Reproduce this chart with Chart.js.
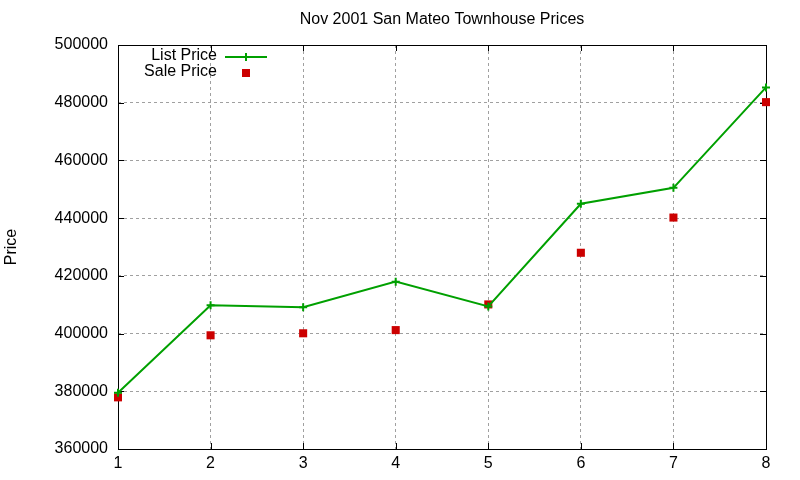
<!DOCTYPE html>
<html>
<head>
<meta charset="utf-8">
<script src="https://cdn.jsdelivr.net/npm/chart.js@4/dist/chart.umd.min.js"></script>
<style>
  html, body { margin: 0; padding: 0; background: #fff; }
  #wrap { width: 800px; height: 480px; }
</style>
</head>
<body>
<div id="wrap"><canvas id="chart"></canvas></div>
<script>
const listingIndex = [1, 2, 3, 4, 5, 6, 7, 8];
const listPrice = [379500, 409800, 409100, 418000, 409400, 445000, 450500, 485300];
const salePrice = [377900, 399400, 400100, 401200, 410100, 428000, 440200, 480200];
const yTicks = [360000, 380000, 400000, 420000, 440000, 460000, 480000, 500000];
const chartTitle = "Nov 2001 San Mateo Townhouse Prices";

const FONT = "'Liberation Sans', Arial, sans-serif";

// gnuplot style frame: black box with inward ticks, title and key
const framePlugin = {
  id: "frame",
  beforeDatasetsDraw(chart) {
    const { ctx, chartArea: a, scales } = chart;
    ctx.save();
    ctx.strokeStyle = "#000";
    ctx.lineWidth = 1;
    ctx.beginPath();
    scales.x.ticks.forEach((t) => {
      const x = Math.round(scales.x.getPixelForValue(t.value)) + 0.5;
      ctx.moveTo(x, a.bottom); ctx.lineTo(x, a.bottom - 6);
      ctx.moveTo(x, a.top); ctx.lineTo(x, a.top + 6);
    });
    scales.y.ticks.forEach((t) => {
      const y = Math.round(scales.y.getPixelForValue(t.value)) + 0.5;
      ctx.moveTo(a.left, y); ctx.lineTo(a.left + 6, y);
      ctx.moveTo(a.right, y); ctx.lineTo(a.right - 6, y);
    });
    ctx.stroke();
    ctx.strokeRect(Math.round(a.left) + 0.5, Math.round(a.top) + 0.5,
      Math.round(a.right - a.left), Math.round(a.bottom - a.top));
    ctx.restore();
  },
  afterDraw(chart) {
    const { ctx, chartArea: a } = chart;
    ctx.save();
    ctx.font = "16px " + FONT;
    ctx.fillStyle = "#000";
    ctx.textAlign = "center";
    ctx.textBaseline = "middle";
    ctx.fillText(chartTitle, (a.left + a.right) / 2, 20);

    // key in the top-left corner: text then sample
    ctx.textAlign = "right";
    const textRight = a.left + 99;
    const sampleMid = a.left + 128;
    chart.data.datasets.forEach((ds, i) => {
      const y = a.top + 11 + i * 16;
      ctx.fillStyle = "#000";
      ctx.fillText(ds.label, textRight, y);
      if (ds.showLine !== false) {
        ctx.strokeStyle = ds.borderColor;
        ctx.lineWidth = 2;
        ctx.beginPath();
        ctx.moveTo(sampleMid - 21, y + 1); ctx.lineTo(sampleMid + 21, y + 1);
        ctx.stroke();
      }
      ctx.fillStyle = ds.pointBackgroundColor;
      ctx.strokeStyle = ds.pointBorderColor;
      ctx.lineWidth = ds.pointBorderWidth;
      Chart.helpers.drawPoint(ctx, {
        pointStyle: ds.pointStyle,
        radius: ds.pointRadius,
        borderWidth: ds.pointBorderWidth,
        rotation: 0
      }, sampleMid, y + 1);
    });
    ctx.restore();
  }
};

new Chart(document.getElementById("chart"), {
  type: "line",
  data: {
    datasets: [
      {
        label: "List Price",
        data: listingIndex.map((x, i) => ({ x, y: listPrice[i] })),
        borderColor: "#00a000",
        borderWidth: 2,
        pointStyle: "cross",
        pointRadius: 4,
        pointBorderWidth: 2,
        pointBackgroundColor: "#00a000",
        pointBorderColor: "#00a000",
        tension: 0,
        clip: false
      },
      {
        label: "Sale Price",
        data: listingIndex.map((x, i) => ({ x, y: salePrice[i] })),
        showLine: false,
        borderColor: "#cc0000",
        pointStyle: "rect",
        pointRadius: 5.7,
        pointBorderWidth: 0,
        pointBackgroundColor: "#cc0000",
        pointBorderColor: "#cc0000",
        clip: false
      }
    ]
  },
  options: {
    responsive: true,
    maintainAspectRatio: false,
    animation: false,
    layout: { padding: { left: 0, right: 34, top: 45, bottom: 0 } },
    plugins: {
      legend: { display: false },
      tooltip: { enabled: false },
      title: { display: false }
    },
    scales: {
      x: {
        type: "linear",
        min: 1,
        max: 8,
        afterFit: (s) => { s.height = 31; },
        ticks: {
          stepSize: 1,
          color: "#000",
          padding: 5,
          font: { family: FONT, size: 16 }
        },
        grid: {
          color: "#a0a0a0",
          drawTicks: false
        },
        border: { display: false, dash: [3, 3] }
      },
      y: {
        min: 360000,
        max: 500000,
        afterFit: (s) => { s.width = 118; },
        afterBuildTicks: (s) => { s.ticks = yTicks.map((v) => ({ value: v })); },
        ticks: {
          color: "#000",
          padding: 10,
          font: { family: FONT, size: 16 },
          callback: (v) => String(v)
        },
        grid: {
          color: "#a0a0a0",
          drawTicks: false
        },
        border: { display: false, dash: [3, 3] },
        title: {
          display: true,
          text: "Price",
          color: "#000",
          font: { family: FONT, size: 16 },
          padding: { top: 2, bottom: 0 }
        }
      }
    }
  },
  plugins: [framePlugin]
});
</script>
</body>
</html>
